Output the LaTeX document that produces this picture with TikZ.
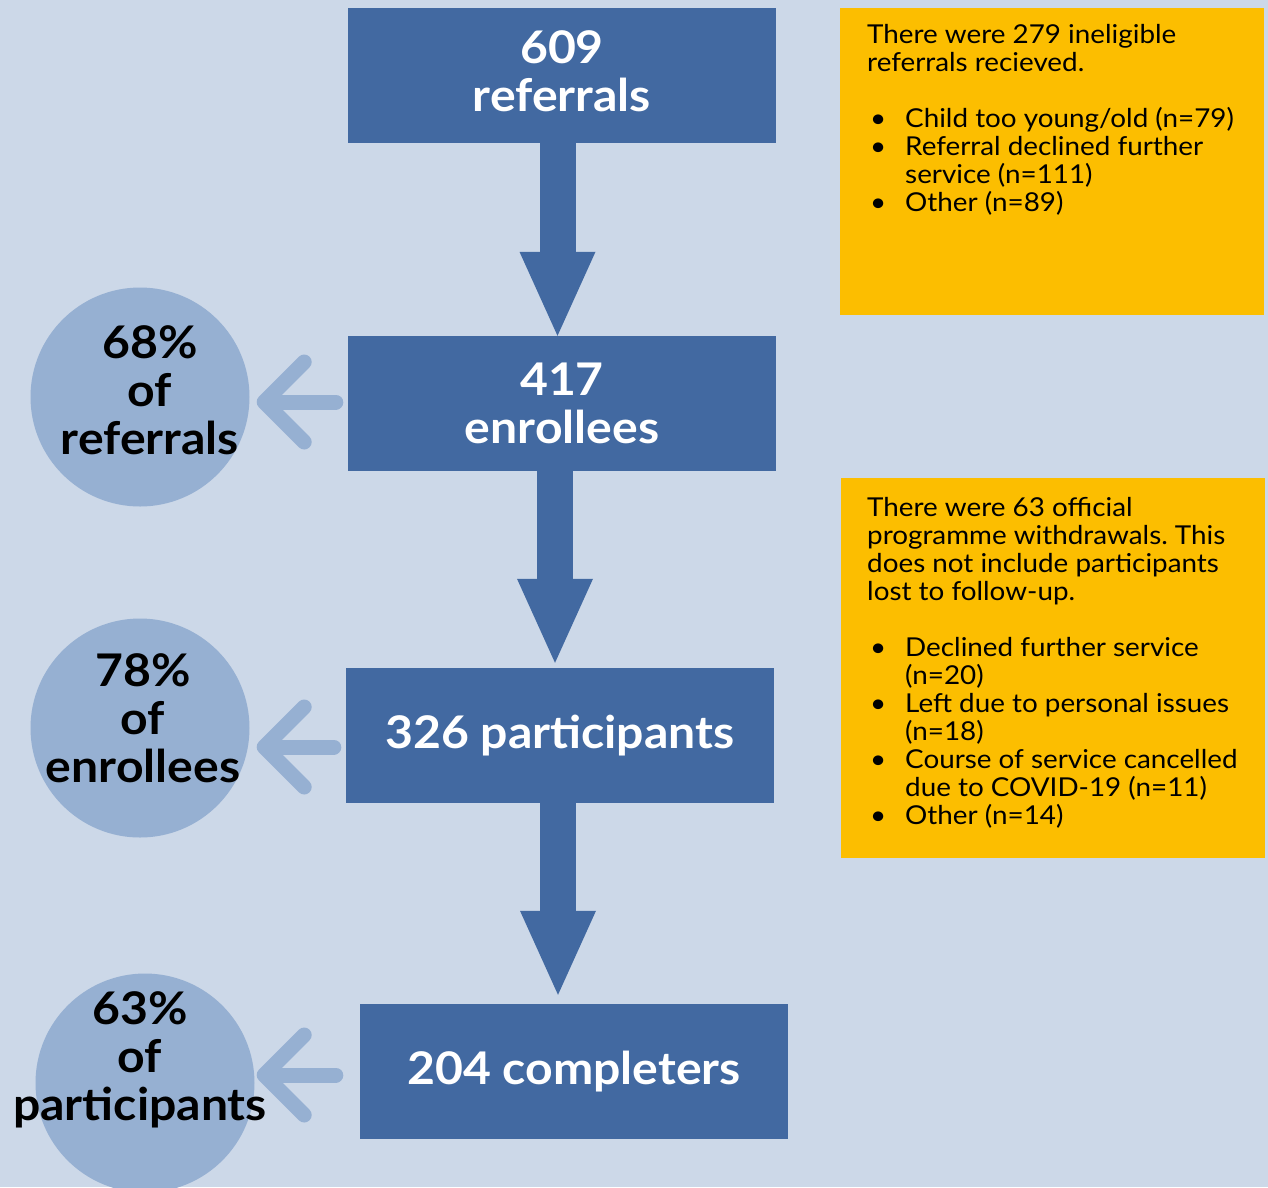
\documentclass[tikz,border=0pt]{standalone}
\usepackage{fontspec}
\setmainfont{Lato}[FakeStretch=1.07]
\usetikzlibrary{arrows.meta}
\frenchspacing

\definecolor{pagebg}{RGB}{204,216,232}
\definecolor{stepblue}{RGB}{66,105,161}
\definecolor{ratioblue}{RGB}{150,176,210}
\definecolor{noteyellow}{RGB}{252,190,0}

\newcommand{\bigtext}{\fontsize{45}{48}\selectfont\bfseries}
\newcommand{\notetext}{\fontsize{26}{28}\selectfont}
\newcommand{\bull}{\makebox[38pt][l]{\hspace{3pt}\textbullet}}
\newcommand{\cont}{\hspace*{38pt}}

\begin{document}
\begin{tikzpicture}[x=1pt,y=-1pt]
   \tikzstyle{stage}=[fill=stepblue,text=white,minimum width=428pt,
                      minimum height=135pt,inner sep=0pt,align=center,font=\bigtext]
   \tikzstyle{ratio}=[circle,fill=ratioblue,minimum size=219pt,inner sep=0pt]
   \tikzstyle{ratiotext}=[align=center,font=\bigtext,text=black]
   \tikzstyle{note}=[fill=noteyellow,minimum width=424pt,inner sep=0pt,anchor=north west]
   \tikzstyle{notetext}=[align=left,font=\notetext,inner sep=0pt,anchor=north west]
   \tikzstyle{flow}=[draw=stepblue,line width=36pt,
                     -{Triangle[length=84pt,width=76pt,line width=0pt]}]
   \tikzstyle{back}=[draw=ratioblue,line width=15pt,line cap=round,
                     -{Straight Barb[round,length=40pt,width=80pt]}]

   \useasboundingbox (0,0) rectangle (1268,1187);
   \fill[pagebg] (0,0) rectangle (1268,1187);

   % the four stages
   \node[stage] (v1) at (562,75.5)  {609\\referrals\\[-40pt]};
   \node[stage] (v2) at (562,403.5) {417\\enrollees};
   \node[stage] (v3) at (560,735.5) {326 participants};
   \node[stage] (v4) at (574,1071.5) {204 completers};

   \draw[flow] ([xshift=-4.5pt]v1.south) -- ([xshift=-4.5pt]v1.south |- v2.north);
   \draw[flow] ([xshift=-7pt]v2.south) -- ([xshift=-7pt,yshift=5pt]v2.south |- v3.north);
   \draw[flow] ([xshift=-2pt]v3.south) -- ([xshift=-2pt,yshift=9pt]v3.south |- v4.north);

   % retention rates
   \node[ratio] (c1) at (140,397)  {};
   \node[ratio] (c2) at (140,728)  {};
   \node[ratio] (c3) at (145,1083) {};
   \node[ratiotext] (r1) at (150,390)  {68\%\\of\\referrals};
   \node[ratiotext] (r2) at (143,718)  {78\%\\of\\enrollees};
   \node[ratiotext] (r3) at (140,1060) {63\%\\of\\participants};

   \draw[back] ([xshift=-12pt,yshift=1.5pt]v2.west) -- ([xshift=7pt]c1.east |- 0,402);
   \draw[back] ([xshift=-12pt,yshift=-11.5pt]v3.west) -- ([xshift=7pt]c2.east |- 0,747);
   \draw[back] ([xshift=-24pt,yshift=-3.5pt]v4.west) -- ([xshift=2pt]c3.east |- 0,1075);

   % exclusions
   \node[note,minimum height=307pt] (n1) at (840,8) {};
   \node[notetext] (n1t) at ([xshift=27pt,yshift=-16pt]n1.north west) {%
      There were 279 ineligible\\
      referrals recieved.\\[28pt]
      \bull Child too young/old (n=79)\\
      \bull Referral declined further\\
      \cont service (n=111)\\
      \bull Other (n=89)};

   \node[note,minimum height=380pt] (n2) at (841,478) {};
   \node[notetext] (n2t) at ([xshift=26pt,yshift=-19pt]n2.north west) {%
      There were 63 official\\
      programme withdrawals. This\\
      does not include participants\\
      lost to follow-up.\\[28pt]
      \bull Declined further service\\
      \cont (n=20)\\
      \bull Left due to personal issues\\
      \cont (n=18)\\
      \bull Course of service cancelled\\
      \cont due to COVID-19 (n=11)\\
      \bull Other (n=14)};
\end{tikzpicture}
\end{document}
